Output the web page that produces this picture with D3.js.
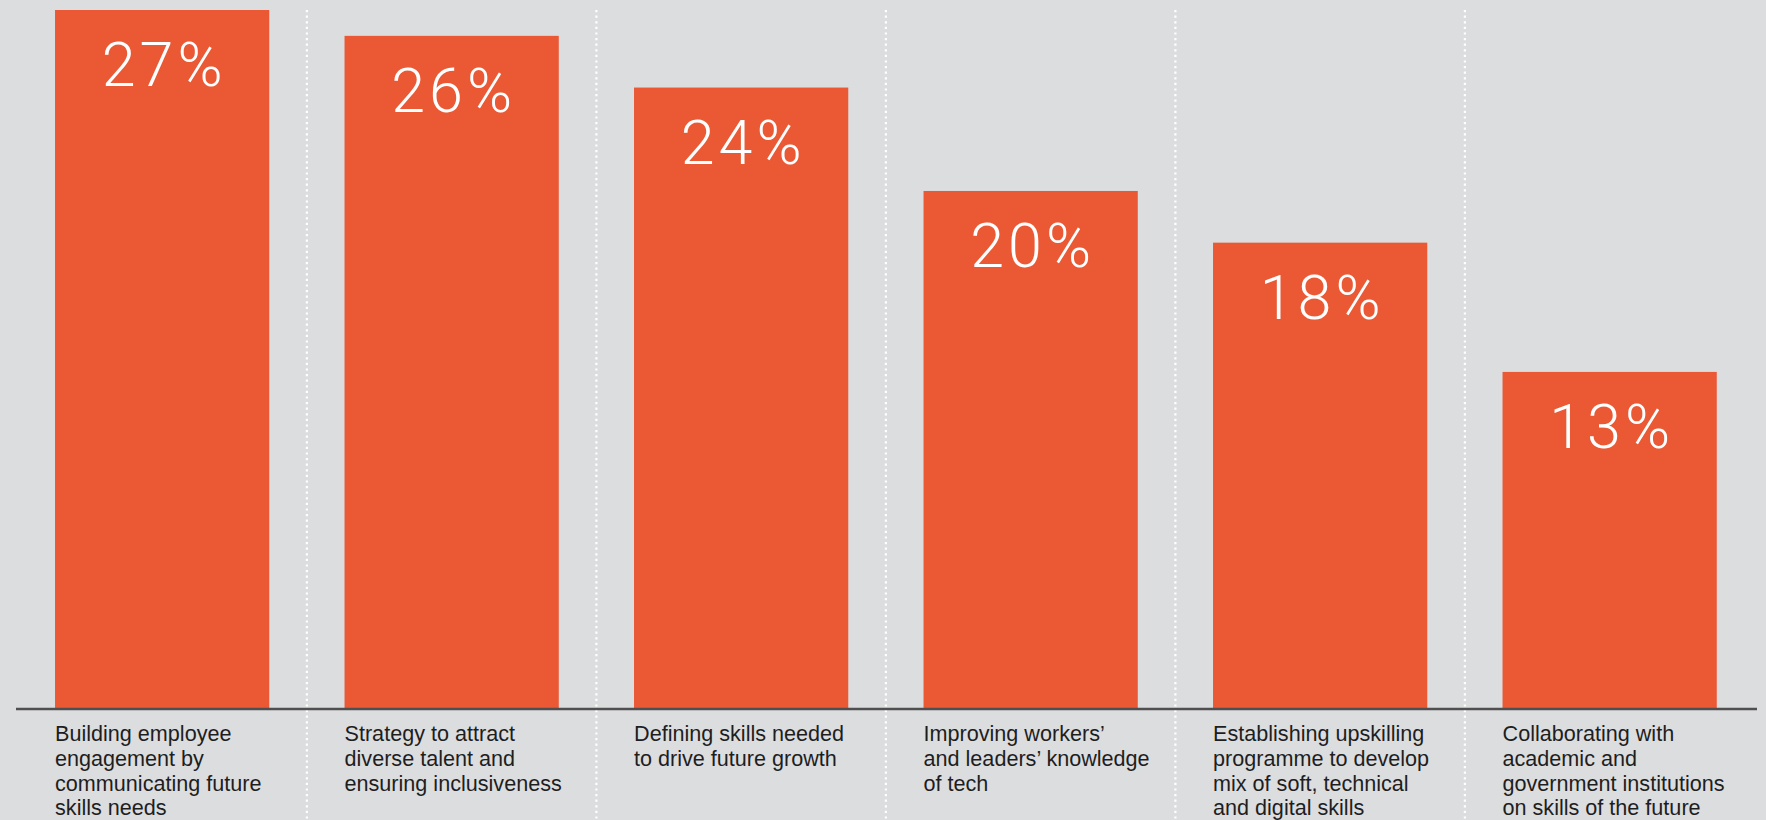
<!DOCTYPE html>
<html>
<head>
<meta charset="utf-8">
<script src="https://cdn.jsdelivr.net/npm/d3@7"></script>
<style>
  html, body { margin: 0; padding: 0; background: #DCDDDF; }
  svg { display: block; }
</style>
</head>
<body>
<div id="chart"></div>
<script>
const categories = [
  "Building employee engagement by communicating future skills needs",
  "Strategy to attract diverse talent and ensuring inclusiveness",
  "Defining skills needed to drive future growth",
  "Improving workers’ and leaders’ knowledge of tech",
  "Establishing upskilling programme to develop mix of soft, technical and digital skills",
  "Collaborating with academic and government institutions on skills of the future"
];
const categoryLines = [
  ["Building employee", "engagement by", "communicating future", "skills needs"],
  ["Strategy to attract", "diverse talent and", "ensuring inclusiveness"],
  ["Defining skills needed", "to drive future growth"],
  ["Improving workers’", "and leaders’ knowledge", "of tech"],
  ["Establishing upskilling", "programme to develop", "mix of soft, technical", "and digital skills"],
  ["Collaborating with", "academic and", "government institutions", "on skills of the future"]
];
const values = [27, 26, 24, 20, 18, 13];
const valueLabels = ["27%", "26%", "24%", "20%", "18%", "13%"];

const W = 1766, H = 820;
const baseY = 708;
const topY = 10;

const svg = d3.select("#chart").append("svg")
  .attr("width", W).attr("height", H);

svg.append("rect").attr("width", W).attr("height", H).attr("fill", "#DCDDDF");

const x = d3.scaleBand()
  .domain(categories)
  .range([17.4, 1754.4])
  .paddingInner(0.26)
  .paddingOuter(0.13);

const y = d3.scaleLinear()
  .domain([0, 27])
  .range([baseY, topY]);

const step = x.step();
const bw = x.bandwidth();

// dotted separators
const seps = categories.slice(0, -1).map(c => x(c) + bw + (step - bw) / 2);
svg.append("g").selectAll("line").data(seps).join("line")
  .attr("x1", d => d).attr("x2", d => d)
  .attr("y1", topY).attr("y2", H)
  .attr("stroke", "#ffffff")
  .attr("stroke-width", 2.2)
  .attr("stroke-dasharray", "2.2,3.4");

// bars
svg.append("g").selectAll("rect").data(categories).join("rect")
  .attr("x", d => x(d))
  .attr("y", (d, i) => y(values[i]))
  .attr("width", bw)
  .attr("height", (d, i) => baseY - y(values[i]))
  .attr("fill", "#EA5834");

// value labels
svg.append("g").selectAll("text").data(categories).join("text")
  .attr("x", d => x(d) + bw / 2 + 2)
  .attr("y", (d, i) => y(values[i]) + 76)
  .attr("text-anchor", "middle")
  .attr("fill", "#ffffff")
  .attr("font-family", "Roboto, 'Open Sans', sans-serif")
  .attr("font-weight", 300)
  .attr("font-size", 61)
  .attr("letter-spacing", 4)
  .text((d, i) => valueLabels[i]);

// axis line
svg.append("line")
  .attr("x1", 16).attr("x2", 1757)
  .attr("y1", baseY + 1).attr("y2", baseY + 1)
  .attr("stroke", "#4f4f4f")
  .attr("stroke-width", 2.5);

// category labels
const lab = svg.append("g").selectAll("text").data(categories).join("text")
  .attr("x", d => x(d))
  .attr("y", 741)
  .attr("fill", "#1e1e1e")
  .attr("font-family", "'Liberation Sans', Arial, sans-serif")
  .attr("font-size", 21.6);
lab.each(function(d, i) {
  d3.select(this).selectAll("tspan").data(categoryLines[i]).join("tspan")
    .attr("x", x(d))
    .attr("dy", (l, j) => j === 0 ? 0 : 24.8)
    .text(l => l);
});
</script>
</body>
</html>
